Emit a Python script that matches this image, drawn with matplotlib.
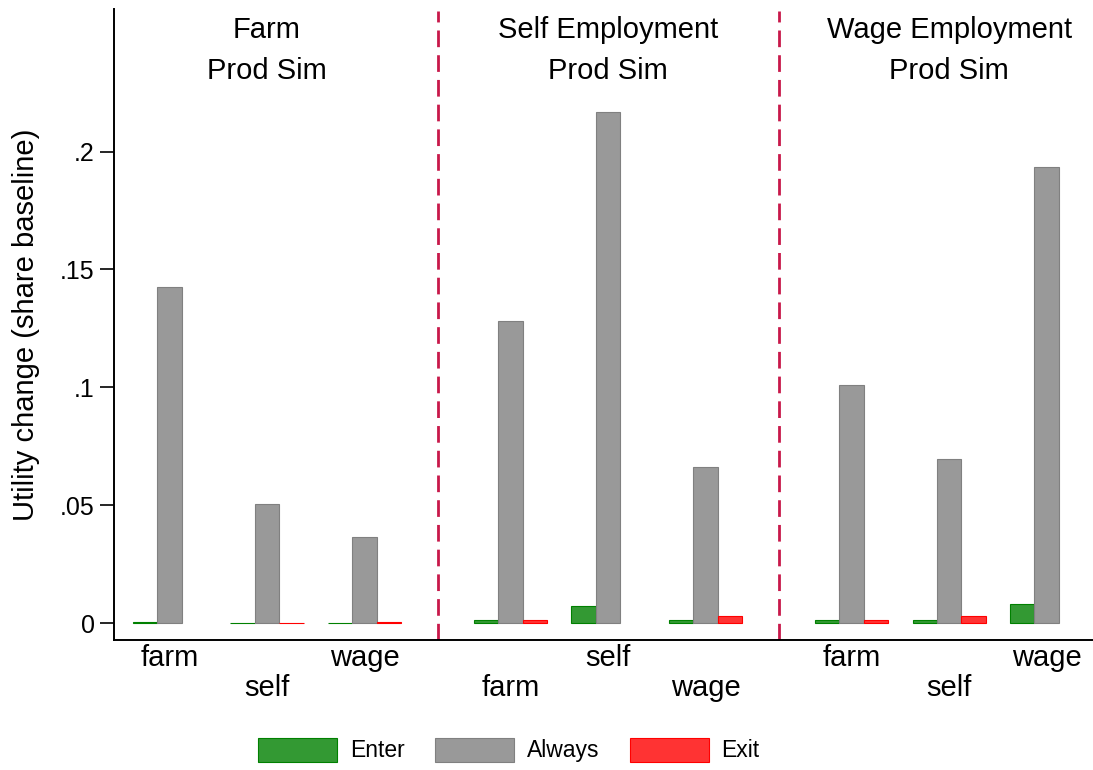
import numpy as np
import matplotlib
matplotlib.use("Agg")
import matplotlib.pyplot as plt
from matplotlib.patches import Patch

plt.rcParams['font.family'] = ['Liberation Sans', 'DejaVu Sans']

# utility change by simulated sector (panel) and origin sector (group)
panels = ["Farm", "Self Employment", "Wage Employment"]
panel_sub = "Prod Sim"
sectors = ["farm", "self", "wage"]
series = ["Enter", "Always", "Exit"]

enter = [0.0006, 0.0002, 0.0002, 0.0014, 0.0074, 0.0011, 0.0012, 0.0012, 0.0080]
always = [0.1425, 0.0506, 0.0364, 0.1280, 0.2166, 0.0662, 0.1011, 0.0697, 0.1933]
exit_ = [np.nan, 0.0002, 0.0003, 0.0014, np.nan, 0.0031, 0.0014, 0.0031, np.nan]

yticks = [0, 0.05, 0.1, 0.15, 0.2]
ytick_labels = ["0", ".05", ".1", ".15", ".2"]

fills = ["#339933", "#999999", "#ff3333"]
edges = ["#008000", "#808080", "#ff0000"]

fs = 21
fs_tick = 18
fs_leg = 16.5
fig = plt.figure(figsize=(10.93, 7.70), dpi=100)
ax = fig.add_axes([114 / 1093, 1 - 640 / 770, 1 - 114 / 1093, (640 - 9) / 770])

# group positions: three groups per panel, extra half-slot between panels
xpos = np.array([p * 3.5 + g for p in range(3) for g in range(3)])
w = 0.25
for k, vals in enumerate([enter, always, exit_]):
    vals = np.array(vals)
    ok = ~np.isnan(vals)
    ax.bar(xpos[ok] + (k - 1) * w, vals[ok], width=w, color=fills[k],
           edgecolor=edges[k], linewidth=0.8, zorder=2)

ax.set_xlim(-0.57, 9.477)
ax.set_ylim(-0.0072, 0.2605)

# dashed separators between panels
for p in range(1, 3):
    xs = p * 3.5 - 0.75
    ax.plot([xs, xs], [-0.0072, 0.2598], color="#c8184a", lw=2.0,
            dashes=(6, 2.9), zorder=1)

# panel titles
for p, name in enumerate(panels):
    xc = p * 3.5 + 1
    ax.text(xc, 0.2518, name, ha="center", va="center", fontsize=fs)
    ax.text(xc, 0.2340, panel_sub, ha="center", va="center", fontsize=fs)

# staggered category labels under the axis
trans = matplotlib.transforms.blended_transform_factory(ax.transData, fig.transFigure)
for i, x in enumerate(xpos):
    ypix = 658 if i % 2 == 0 else 688
    ax.text(x, 1 - ypix / 770, sectors[i % 3], transform=trans,
            ha="center", va="center", fontsize=fs)

ax.set_xticks([])
ax.set_yticks(yticks)
ax.set_yticklabels(ytick_labels, fontsize=fs_tick)
ax.tick_params(axis="y", length=10, width=1.2, pad=4)
ax.set_ylabel("Utility change (share baseline)", fontsize=fs)
ax.yaxis.set_label_coords((40 - 114) / 979, 0.5)
for s in ["top", "right"]:
    ax.spines[s].set_visible(False)
for s in ["left", "bottom"]:
    ax.spines[s].set_linewidth(1.4)

leg_px = fs_leg * 100 / 72
handles = [Patch(facecolor=fills[k], edgecolor=edges[k], linewidth=0.8)
           for k in range(3)]
fig.legend(handles, series, loc="center", bbox_to_anchor=(509 / 1093, 1 - 750 / 770),
           ncol=3, frameon=False, fontsize=fs_leg, handlelength=79 / leg_px,
           handleheight=29 / leg_px, handletextpad=13 / leg_px,
           columnspacing=30 / leg_px)

fig.savefig("out.png", dpi=100)
